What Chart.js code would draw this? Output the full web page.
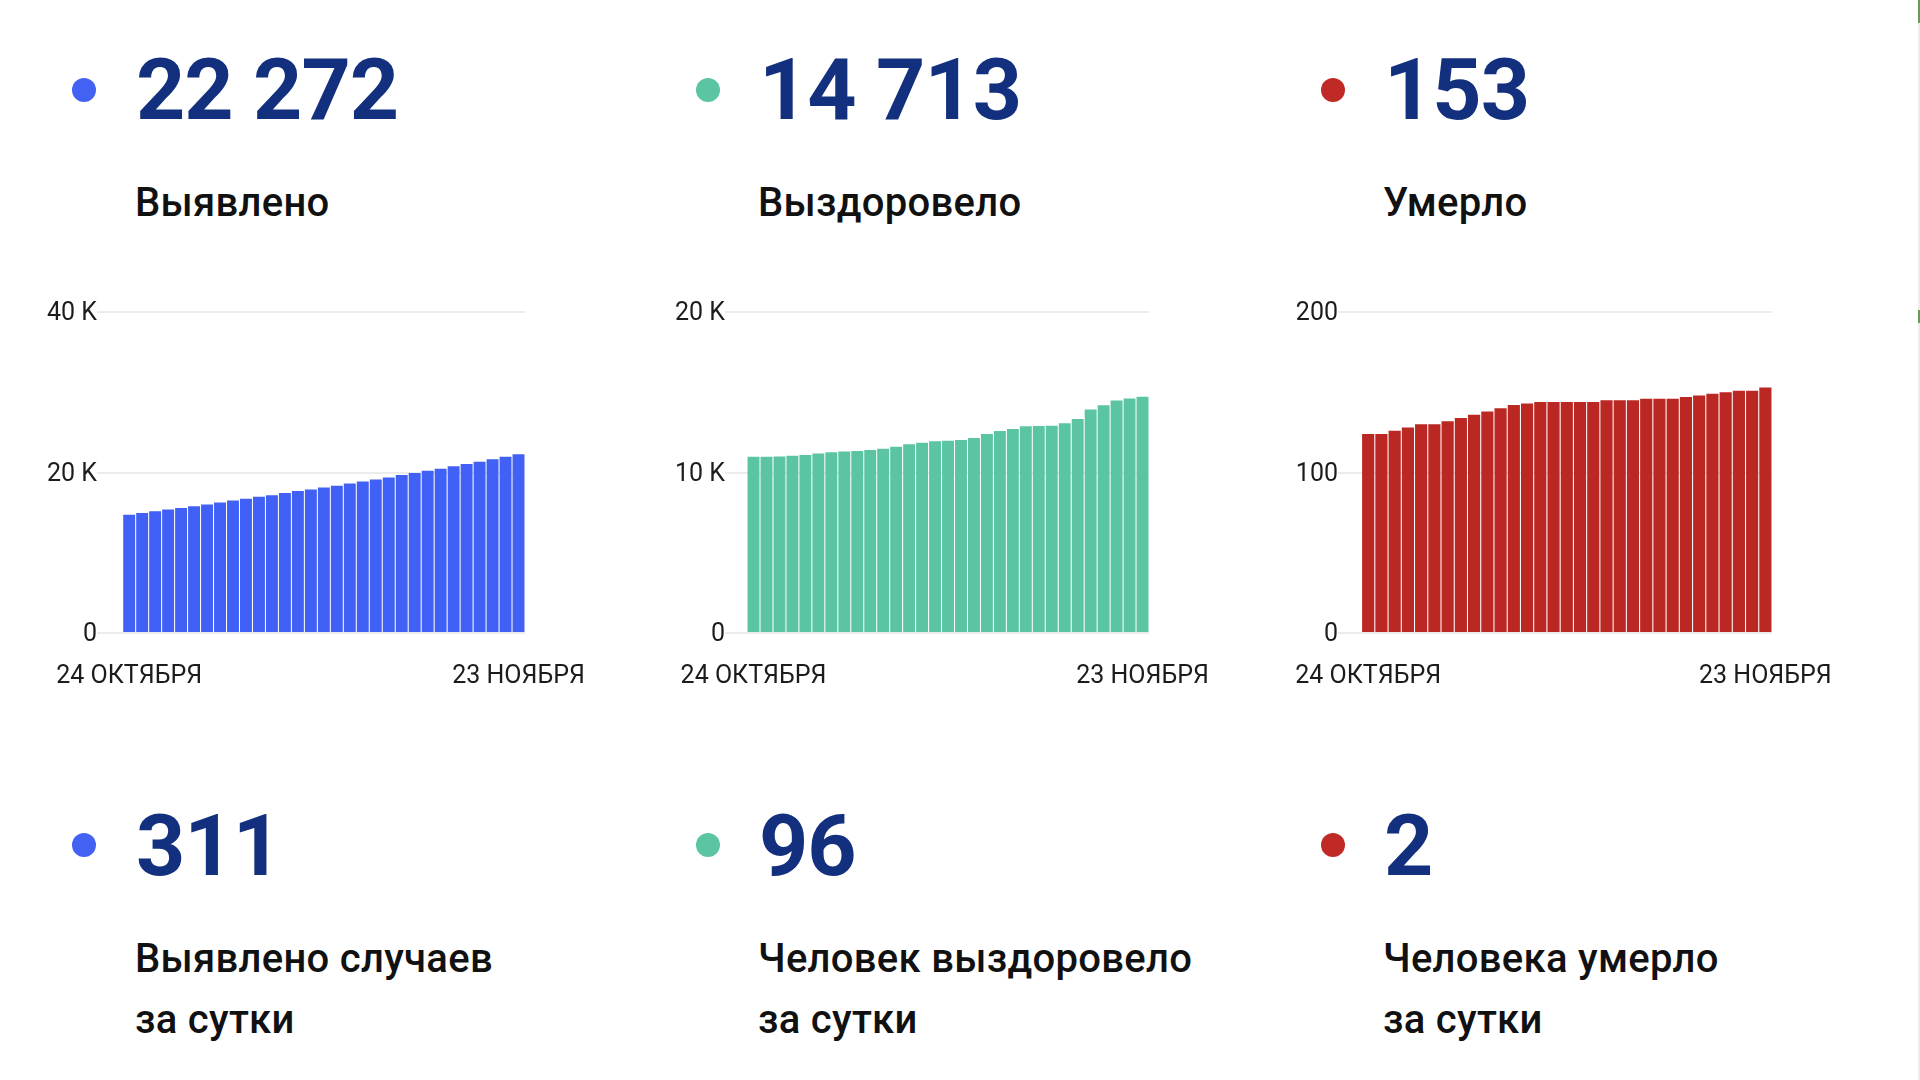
<!DOCTYPE html>
<html lang="ru">
<head>
<meta charset="utf-8">
<script src="https://cdn.jsdelivr.net/npm/chart.js@4.4.1/dist/chart.umd.min.js"></script>
<style>
  html, body { margin: 0; padding: 0; background: #fff; }
  body { width: 1920px; height: 1080px; position: relative; overflow: hidden; font-family: Roboto, "Noto Sans", sans-serif; }
  .dot { position: absolute; width: 24px; height: 24px; border-radius: 50%; }
  .num { position: absolute; font-weight: 700; font-size: 86px; line-height: 1; color: #13307f; letter-spacing: -1px; white-space: nowrap; }
  .label { position: absolute; font-weight: 500; font-size: 40px; line-height: 61px; color: #111; white-space: nowrap; letter-spacing: 0.3px; }
  .box { position: absolute; }
  .edge { position: absolute; right: 0; top: 0; width: 2px; height: 1080px; background: #ececec; }
  .edge-mark { position: absolute; right: 0; width: 2px; background: #6a9a5a; }
</style>
</head>
<body>

<div id="stats"></div>

<div class="box" id="box1"><canvas id="chart1"></canvas></div>
<div class="box" id="box2"><canvas id="chart2"></canvas></div>
<div class="box" id="box3"><canvas id="chart3"></canvas></div>

<div class="edge"></div>
<div class="edge-mark" style="top:0;height:23px"></div>
<div class="edge-mark" style="top:310px;height:13px"></div>

<script>
// days shown on the x axis (only first and last are labelled)
const days = [
  '24 октября', '25 октября', '26 октября', '27 октября', '28 октября', '29 октября', '30 октября', '31 октября',
  '1 ноября', '2 ноября', '3 ноября', '4 ноября', '5 ноября', '6 ноября', '7 ноября', '8 ноября',
  '9 ноября', '10 ноября', '11 ноября', '12 ноября', '13 ноября', '14 ноября', '15 ноября', '16 ноября',
  '17 ноября', '18 ноября', '19 ноября', '20 ноября', '21 ноября', '22 ноября', '23 ноября'
];

// cumulative totals per day
const casesTotal = [
  14750, 14960, 15170, 15380, 15590, 15800, 16010, 16260, 16510, 16720, 16970, 17180, 17430, 17680, 17890, 18140,
  18350, 18640, 18890, 19140, 19390, 19680, 19930, 20230, 20480, 20770, 21060, 21350, 21650, 21961, 22272
];
const recoveredTotal = [
  10980, 10985, 10990, 11045, 11085, 11190, 11255, 11315, 11335, 11400, 11480, 11605, 11755, 11860, 11940, 11980,
  12025, 12150, 12400, 12585, 12710, 12880, 12900, 12905, 13065, 13335, 13920, 14190, 14480, 14617, 14713
];
const deathsTotal = [
  124, 124, 126, 128, 130, 130, 132, 134, 136, 138, 140, 142, 143, 144, 144, 144,
  144, 144, 145, 145, 145, 146, 146, 146, 147, 148, 149, 150, 151, 151, 153
];

// headline figures
const totalLabels = ['Выявлено', 'Выздоровело', 'Умерло'];
const totalValues = [22272, 14713, 153];
const dailyLabels = ['Выявлено случаев\nза сутки', 'Человек выздоровело\nза сутки', 'Человека умерло\nза сутки'];
const dailyValues = [311, 96, 2];

const colors = ['#4160f5', '#5bc5a3', '#bb2722'];
const dotColors = ['#4361f2', '#5bc5a3', '#c02a26'];
const columnX = [135, 758, 1383];
const dotX = [72, 696, 1321];

function fmt(n) {
  return n.toString().replace(/\B(?=(\d{3})+(?!\d))/g, ' ');
}

// headline blocks
let stats = document.getElementById('stats');
for (let i = 0; i < 3; i++) {
  stats.insertAdjacentHTML('beforeend',
    `<div class="dot" style="left:${dotX[i]}px;top:78px;background:${dotColors[i]}"></div>
     <div class="num" style="left:${columnX[i] + 1}px;top:47px">${fmt(totalValues[i])}</div>
     <div class="label" style="left:${columnX[i]}px;top:172px">${totalLabels[i]}</div>
     <div class="dot" style="left:${dotX[i]}px;top:833px;background:${dotColors[i]}"></div>
     <div class="num" style="left:${columnX[i] + 1}px;top:803px">${fmt(dailyValues[i])}</div>
     <div class="label" style="left:${columnX[i]}px;top:928px">${dailyLabels[i].replace('\n', '<br>')}</div>`);
}

// chart boxes: left, width, x-axis min (leaves the gap before the first bar)
const boxes = [
  { left: 37, width: 563, xMin: -2.48, yMax: 40000, step: 20000 },
  { left: 665, width: 559, xMin: -2.2, yMax: 20000, step: 10000 },
  { left: 1278, width: 569, xMin: -2.28, yMax: 200, step: 100 }
];
const series = [casesTotal, recoveredTotal, deathsTotal];

function drawChart(idx) {
  let b = boxes[idx];
  let box = document.getElementById('box' + (idx + 1));
  box.style.left = b.left + 'px';
  box.style.top = '290px';
  box.style.width = b.width + 'px';
  box.style.height = '413px';

  let ctx = document.getElementById('chart' + (idx + 1)).getContext('2d');
  new Chart(ctx, {
    type: 'bar',
    data: {
      datasets: [{
        data: series[idx].map((v, i) => ({ x: i, y: v })),
        backgroundColor: colors[idx],
        borderWidth: 0,
        categoryPercentage: 1,
        barPercentage: 0.92
      }]
    },
    options: {
      responsive: true,
      maintainAspectRatio: false,
      animation: false,
      layout: { padding: { top: 22, right: 75, bottom: 0, left: 0 } },
      plugins: { legend: { display: false }, tooltip: { enabled: false } },
      scales: {
        x: {
          type: 'linear',
          min: b.xMin,
          max: 30.5,
          offset: false,
          grid: { display: false },
          border: { display: false },
          afterBuildTicks: function (scale) {
            scale.ticks = [{ value: 0 }, { value: days.length - 1 }];
          },
          afterFit: function (scale) {
            scale.height = 70;
            scale.paddingLeft = 0;
            scale.paddingRight = 0;
          },
          ticks: {
            maxRotation: 0,
            autoSkip: false,
            padding: 21,
            color: '#1c1c1c',
            font: { family: 'Roboto', size: 25 },
            callback: function (value) { return days[value].toUpperCase(); }
          }
        },
        y: {
          min: 0,
          max: b.yMax,
          grid: { color: '#ececec', lineWidth: 2, drawTicks: false },
          border: { display: false },
          afterFit: function (scale) { scale.width = 60; },
          ticks: {
            stepSize: b.step,
            padding: 0,
            labelOffset: 2,
            color: '#1c1c1c',
            font: { family: 'Roboto', size: 25 },
            callback: function (value) {
              if (value === 0 || b.yMax < 1000) return value;
              return (value / 1000) + ' K';
            }
          }
        }
      }
    }
  });
}

drawChart(0);
drawChart(1);
drawChart(2);
</script>
</body>
</html>
